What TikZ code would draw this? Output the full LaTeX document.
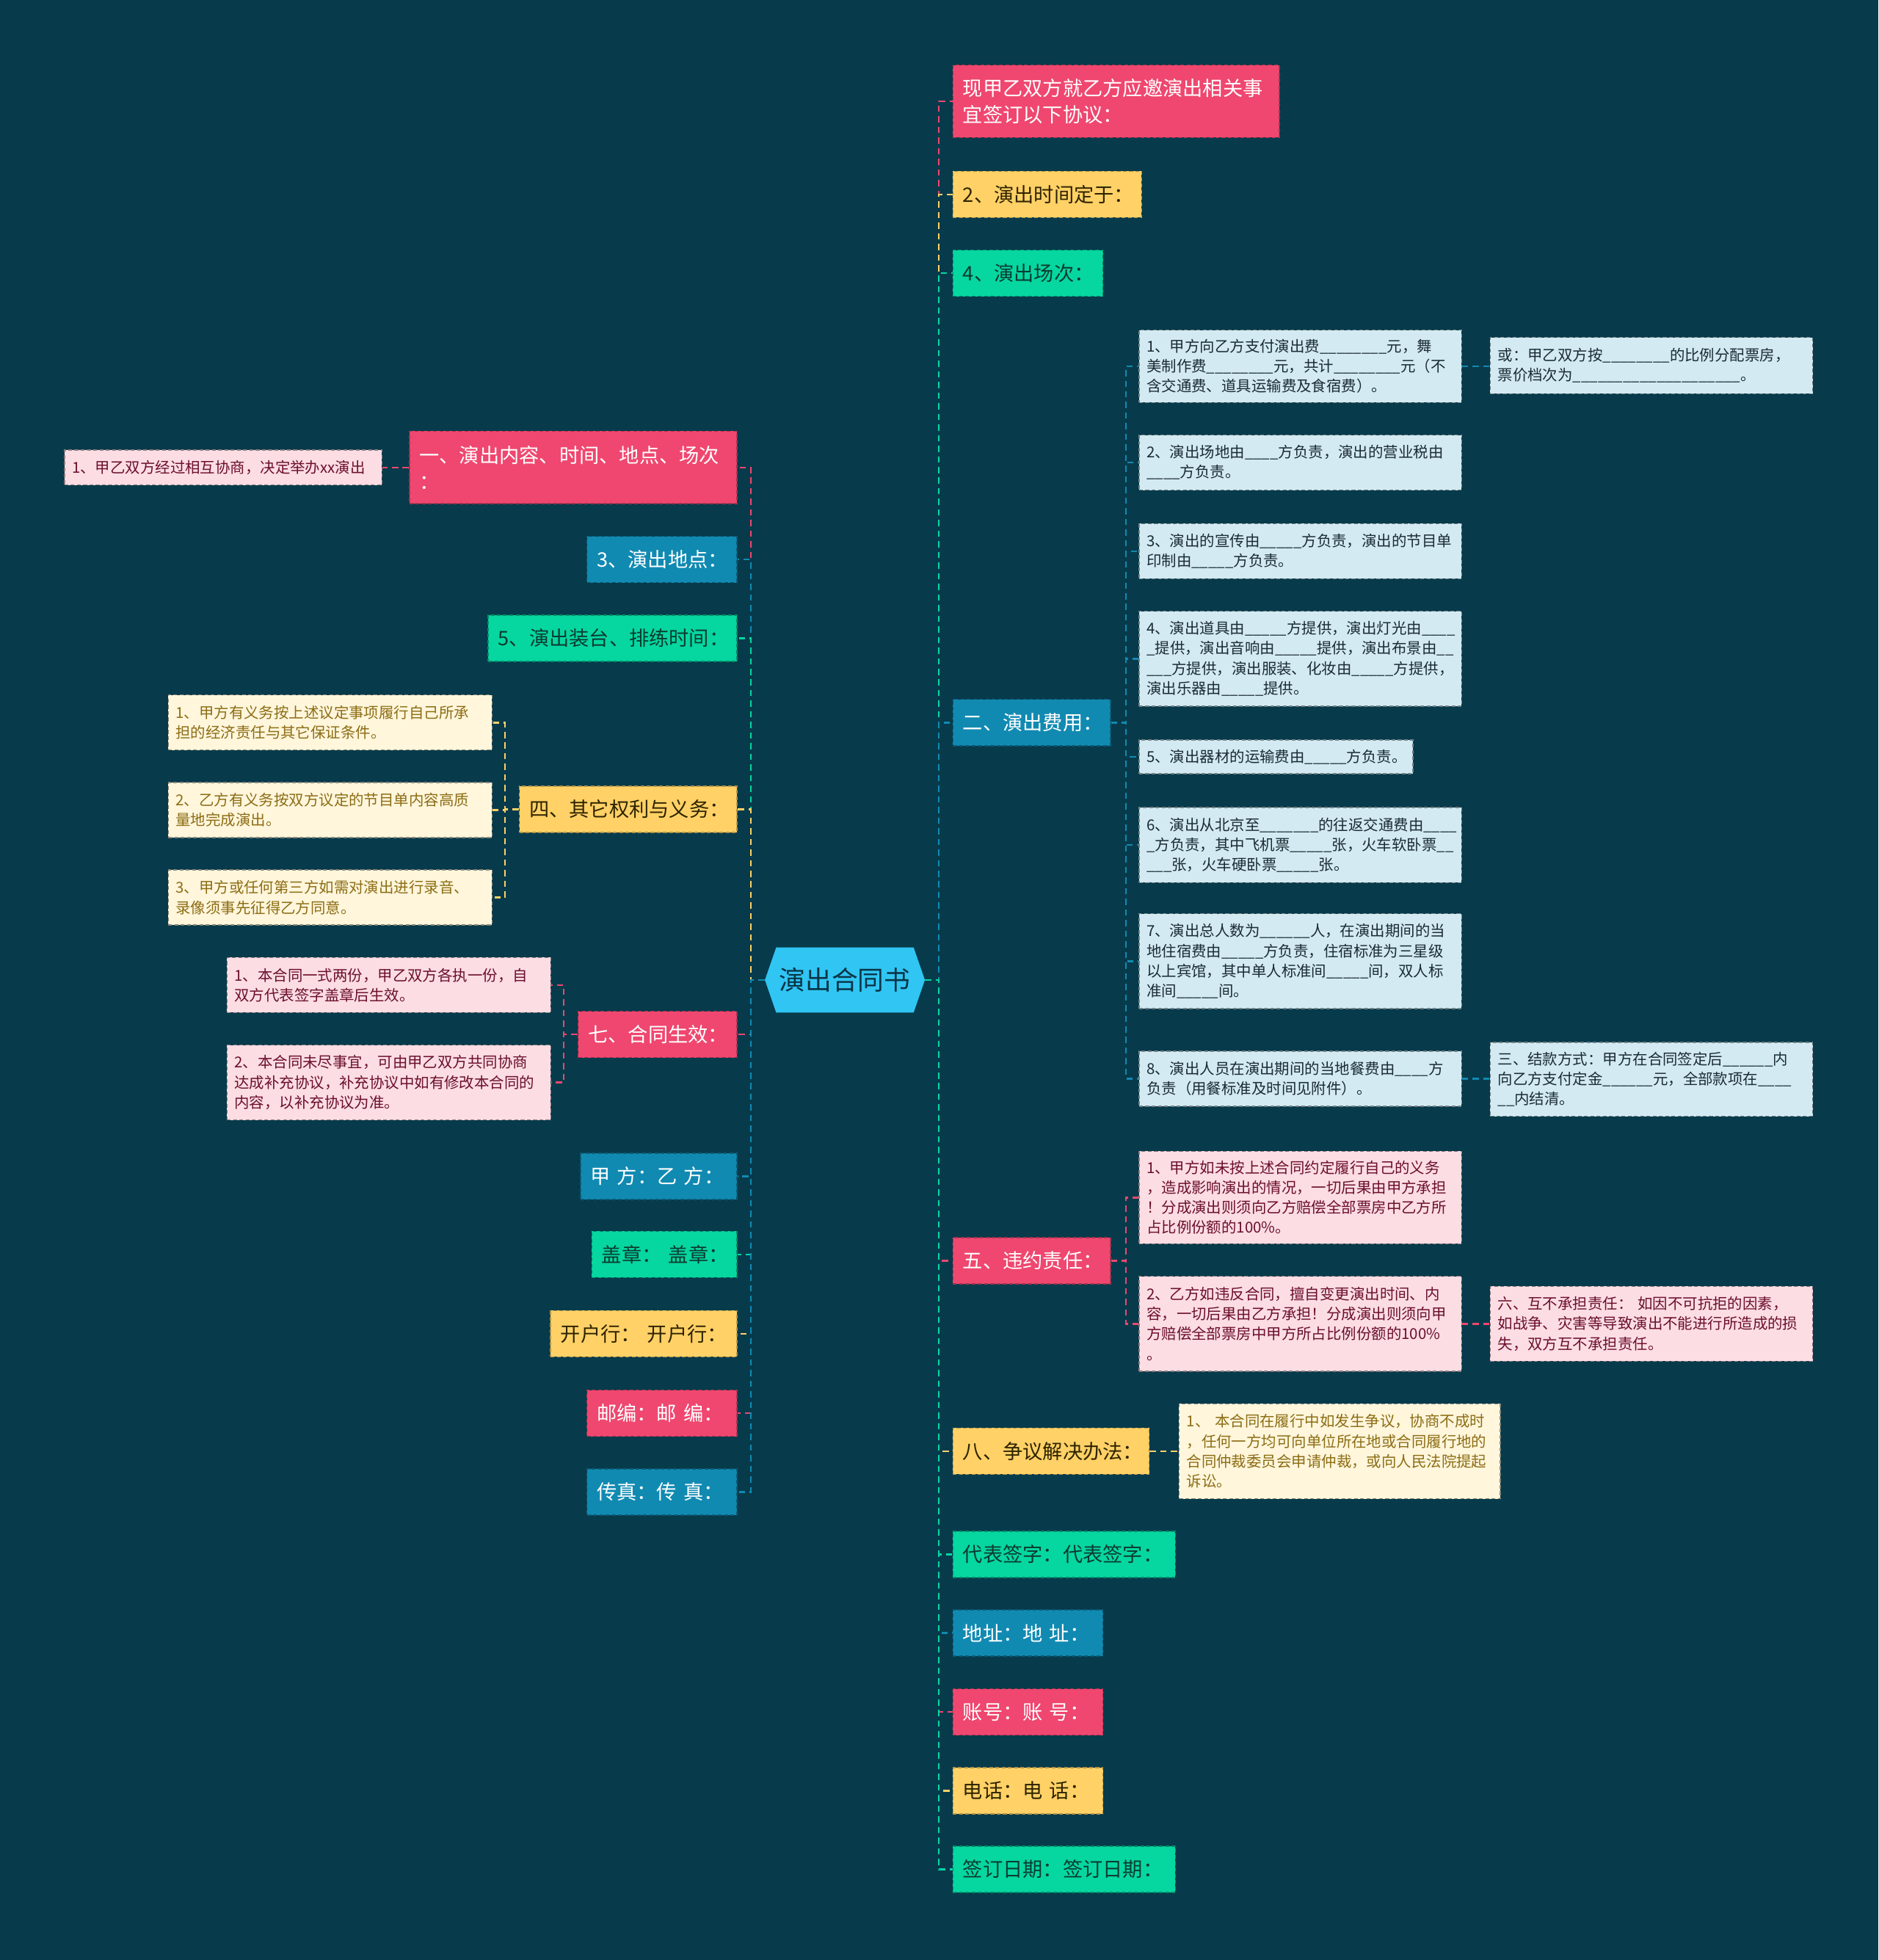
\documentclass[tikz,border=0pt]{standalone}
\usepackage{fontspec}
\setmainfont{Noto Sans CJK SC}
\ExplSyntaxOn
\NewDocumentCommand\blk{m}{\prg_replicate:nn{#1}{\_}}
\ExplSyntaxOff
\definecolor{bg}{HTML}{073B4C}
\definecolor{cR}{HTML}{EF476F}
\definecolor{cY}{HTML}{FFD166}
\definecolor{cG}{HTML}{06D6A0}
\definecolor{cB}{HTML}{118AB2}
\definecolor{cRoot}{HTML}{30C5F3}
\definecolor{lB}{HTML}{D3EAF2}
\definecolor{lR}{HTML}{FCDDE3}
\definecolor{lY}{HTML}{FFF6DC}
\definecolor{tR}{HTML}{6B0F2C}
\definecolor{tY}{HTML}{8C6D14}
\definecolor{tB}{HTML}{1A2B33}
\definecolor{tYd}{HTML}{2E2300}
\definecolor{tG}{HTML}{0B3B30}
\definecolor{tRoot}{HTML}{0A3446}
\begin{document}
\begin{tikzpicture}[x=1pt,y=-1pt,
  Lone/.style={draw, dash pattern=on 3pt off 2pt, line width=0.9pt, inner xsep=8pt, inner ysep=2pt, align=left, minimum height=37pt, font=\fontsize{16}{21}\selectfont},
  Ltwo/.style={draw, dash pattern=on 3pt off 2pt, line width=0.8pt, inner xsep=6pt, inner ysep=2pt, align=left, font=\fontsize{12}{16}\selectfont},
  nR/.style={Lone, fill=cR, draw=cR!70!black, text=white},
  nY/.style={Lone, fill=cY, draw=cY!70!black, text=tYd},
  nG/.style={Lone, fill=cG, draw=cG!65!black, text=tG},
  nB/.style={Lone, fill=cB, draw=cB!65!black, text=white},
  sB/.style={Ltwo, fill=lB, draw=lB!55!black, text=tB},
  sR/.style={Ltwo, fill=lR, draw=lR!55!black, text=tR},
  sY/.style={Ltwo, fill=lY, draw=lY!55!black, text=tY},
  conn/.style={draw, dash pattern=on 5pt off 3.5pt, line width=1.5pt}
]
\fill[bg] (0,0) rectangle (1503,1568);
\useasboundingbox (0,0) rectangle (1503,1568);

% root
\fill[cRoot] (612,784) -- (621,758) -- (731,758) -- (740,784) -- (731,810) -- (621,810) -- cycle;
\node[minimum width=128pt, minimum height=52pt, inner sep=0pt, text=tRoot, font=\fontsize{21}{25}\selectfont] (root) at (676,784) {演出合同书};

% right level 1
\node[nR, anchor=west, text width=245pt, minimum height=58pt] (r1) at (762,81) {现甲乙双方就乙方应邀演出相关事\\宜签订以下协议：};
\node[nY, anchor=west, text width=135pt] (r2) at (762,155.5) {2、演出时间定于：};
\node[nG, anchor=west, text width=104pt] (r3) at (762,218.5) {4、演出场次：};
\node[nB, anchor=west, text width=110pt] (r4) at (762,578) {二、演出费用：};
\node[nR, anchor=west, text width=110pt] (r5) at (762,1008.5) {五、违约责任：};
\node[nY, anchor=west, text width=141pt] (r6) at (762,1161) {八、争议解决办法：};
\node[nG, anchor=west, text width=162pt] (r7) at (762,1243.5) {代表签字：代表签字：};
\node[nB, anchor=west, text width=104pt] (r8) at (762,1306.5) {地址：地~址：};
\node[nR, anchor=west, text width=104pt] (r9) at (762,1369.5) {账号：账~号：};
\node[nY, anchor=west, text width=104pt] (r10) at (762,1432.5) {电话：电~话：};
\node[nG, anchor=west, text width=162pt] (r11) at (762,1495.5) {签订日期：签订日期：};

% left level 1
\node[nR, anchor=east, text width=246pt, minimum height=58pt] (l1) at (590,374) {一、演出内容、时间、地点、场次\\：};
\node[nB, anchor=east, text width=104pt] (l2) at (590,447.5) {3、演出地点：};
\node[nG, anchor=east, text width=183pt] (l3) at (590,510.5) {5、演出装台、排练时间：};
\node[nY, anchor=east, text width=158pt] (l4) at (590,647.5) {四、其它权利与义务：};
\node[nR, anchor=east, text width=111pt] (l5) at (590,827.5) {七、合同生效：};
\node[nB, anchor=east, text width=109pt] (l6) at (590,941) {甲~方：乙~方：};
\node[nG, anchor=east, text width=100pt] (l7) at (590,1003.5) {盖章：~盖章：};
\node[nY, anchor=east, text width=133pt] (l8) at (590,1067) {开户行：~开户行：};
\node[nR, anchor=east, text width=104pt] (l9) at (590,1130.5) {邮编：邮~编：};
\node[nB, anchor=east, text width=104pt] (l10) at (590,1193.5) {传真：传~真：};

% level 2 under 二
\node[sB, anchor=west, text width=246pt, minimum height=58pt] (c1) at (911,293) {1、甲方向乙方支付演出费\blk{8}元，舞\\美制作费\blk{8}元，共计\blk{8}元（不\\含交通费、道具运输费及食宿费）。};
\node[sB, anchor=west, text width=246pt, minimum height=44pt] (c2) at (911,370) {2、演出场地由\blk{4}方负责，演出的营业税由\\\blk{4}方负责。};
\node[sB, anchor=west, text width=246pt, minimum height=44pt] (c3) at (911,441) {3、演出的宣传由\blk{5}方负责，演出的节目单\\印制由\blk{5}方负责。};
\node[sB, anchor=west, text width=246pt, minimum height=76pt] (c4) at (911,527) {4、演出道具由\blk{5}方提供，演出灯光由\blk{4}\\\blk{1}提供，演出音响由\blk{5}提供，演出布景由\blk{2}\\\blk{3}方提供，演出服装、化妆由\blk{5}方提供，\\演出乐器由\blk{5}提供。};
\node[sB, anchor=west, text width=207pt, minimum height=27pt] (c5) at (911,605.5) {5、演出器材的运输费由\blk{5}方负责。};
\node[sB, anchor=west, text width=246pt, minimum height=60pt] (c6) at (911,676) {6、演出从北京至\blk{7}的往返交通费由\blk{4}\\\blk{1}方负责，其中飞机票\blk{5}张，火车软卧票\blk{2}\\\blk{3}张，火车硬卧票\blk{5}张。};
\node[sB, anchor=west, text width=246pt, minimum height=76pt] (c7) at (911,769) {7、演出总人数为\blk{6}人，在演出期间的当\\地住宿费由\blk{5}方负责，住宿标准为三星级\\以上宾馆，其中单人标准间\blk{5}间，双人标\\准间\blk{5}间。};
\node[sB, anchor=west, text width=246pt, minimum height=44pt] (c8) at (911,863) {8、演出人员在演出期间的当地餐费由\blk{4}方\\负责（用餐标准及时间见附件）。};
\node[sB, anchor=west, text width=246pt, minimum height=45pt] (e1) at (1192,292.5) {或：甲乙双方按\blk{8}的比例分配票房，\\票价档次为\blk{20}。};
\node[sB, anchor=west, text width=246pt, minimum height=59pt] (e2) at (1192,863.5) {三、结款方式：甲方在合同签定后\blk{6}内\\向乙方支付定金\blk{6}元，全部款项在\blk{4}\\\blk{2}内结清。};

% level 2 under 五
\node[sR, anchor=west, text width=246pt, minimum height=74pt] (d1) at (911,958) {1、甲方如未按上述合同约定履行自己的义务\\，造成影响演出的情况，一切后果由甲方承担\\！分成演出则须向乙方赔偿全部票房中乙方所\\占比例份额的100\%。};
\node[sR, anchor=west, text width=246pt, minimum height=76pt] (d2) at (911,1059) {2、乙方如违反合同，擅自变更演出时间、内\\容，一切后果由乙方承担！分成演出则须向甲\\方赔偿全部票房中甲方所占比例份额的100\%\\。};
\node[sR, anchor=west, text width=246pt, minimum height=60pt] (e3) at (1192,1059) {六、互不承担责任：~如因不可抗拒的因素，\\如战争、灾害等导致演出不能进行所造成的损\\失，双方互不承担责任。};

% level 2 under 八
\node[sY, anchor=west, text width=245pt, minimum height=76pt] (f1) at (943,1161) {1、~本合同在履行中如发生争议，协商不成时\\，任何一方均可向单位所在地或合同履行地的\\合同仲裁委员会申请仲裁，或向人民法院提起\\诉讼。};

% left level 2
\node[sR, anchor=east, text width=242pt, minimum height=28pt] (g1) at (306,374) {1、甲乙双方经过相互协商，决定举办xx演出};
\node[sY, anchor=east, text width=247pt, minimum height=44pt] (h1) at (394,578) {1、甲方有义务按上述议定事项履行自己所承\\担的经济责任与其它保证条件。};
\node[sY, anchor=east, text width=247pt, minimum height=44pt] (h2) at (394,648) {2、乙方有义务按双方议定的节目单内容高质\\量地完成演出。};
\node[sY, anchor=east, text width=247pt, minimum height=44pt] (h3) at (394,718) {3、甲方或任何第三方如需对演出进行录音、\\录像须事先征得乙方同意。};
\node[sR, anchor=east, text width=247pt, minimum height=44pt] (i1) at (441,788) {1、本合同一式两份，甲乙双方各执一份，自\\双方代表签字盖章后生效。};
\node[sR, anchor=east, text width=247pt, minimum height=60pt] (i2) at (441,866) {2、本合同未尽事宜，可由甲乙双方共同协商\\达成补充协议，补充协议中如有修改本合同的\\内容，以补充协议为准。};

% connectors right
\draw[conn,cR] (root.east) -- ++(11,0) |- (r1.west);
\draw[conn,cY] (root.east) -- ++(11,0) |- (r2.west);
\draw[conn,cG] (root.east) -- ++(11,0) |- (r3.west);
\draw[conn,cB] (root.east) -- ++(11,0) |- (r4.west);
\draw[conn,cR] (root.east) -- ++(11,0) |- (r5.west);
\draw[conn,cY] (root.east) -- ++(11,0) |- (r6.west);
\draw[conn,cG] (root.east) -- ++(11,0) |- (r7.west);
\draw[conn,cB] (root.east) -- ++(11,0) |- (r8.west);
\draw[conn,cR] (root.east) -- ++(11,0) |- (r9.west);
\draw[conn,cY] (root.east) -- ++(11,0) |- (r10.west);
\draw[conn,cG] (root.east) -- ++(11,0) |- (r11.west);
% connectors left
\draw[conn,cR] (root.west) -- ++(-11,0) |- (l1.east);
\draw[conn,cB] (root.west) -- ++(-11,0) |- (l2.east);
\draw[conn,cG] (root.west) -- ++(-11,0) |- (l3.east);
\draw[conn,cY] (root.west) -- ++(-11,0) |- (l4.east);
\draw[conn,cR] (root.west) -- ++(-11,0) |- (l5.east);
\draw[conn,cB] (root.west) -- ++(-11,0) |- (l6.east);
\draw[conn,cG] (root.west) -- ++(-11,0) |- (l7.east);
\draw[conn,cY] (root.west) -- ++(-11,0) |- (l8.east);
\draw[conn,cR] (root.west) -- ++(-11,0) |- (l9.east);
\draw[conn,cB] (root.west) -- ++(-11,0) |- (l10.east);
% sub connectors
\foreach \n in {c1,c2,c3,c4,c5,c6,c7,c8}
  \draw[conn,cB] (r4.east) -- ++(12,0) |- (\n.west);
\draw[conn,cB] (c1.east) -- (c1.east -| e1.west);
\draw[conn,cB] (c8.east) -- (c8.east -| e2.west);
\foreach \n in {d1,d2}
  \draw[conn,cR] (r5.east) -- ++(12,0) |- (\n.west);
\draw[conn,cR] (d2.east) -- (d2.east -| e3.west);
\draw[conn,cY] (r6.east) -- (r6.east -| f1.west);
\draw[conn,cR] (l1.west) -- (l1.west -| g1.east);
\foreach \n in {h1,h2,h3}
  \draw[conn,cY] (l4.west) -- ++(-11,0) |- (\n.east);
\foreach \n in {i1,i2}
  \draw[conn,cR] (l5.west) -- ++(-11,0) |- (\n.east);
\end{tikzpicture}
\end{document}
